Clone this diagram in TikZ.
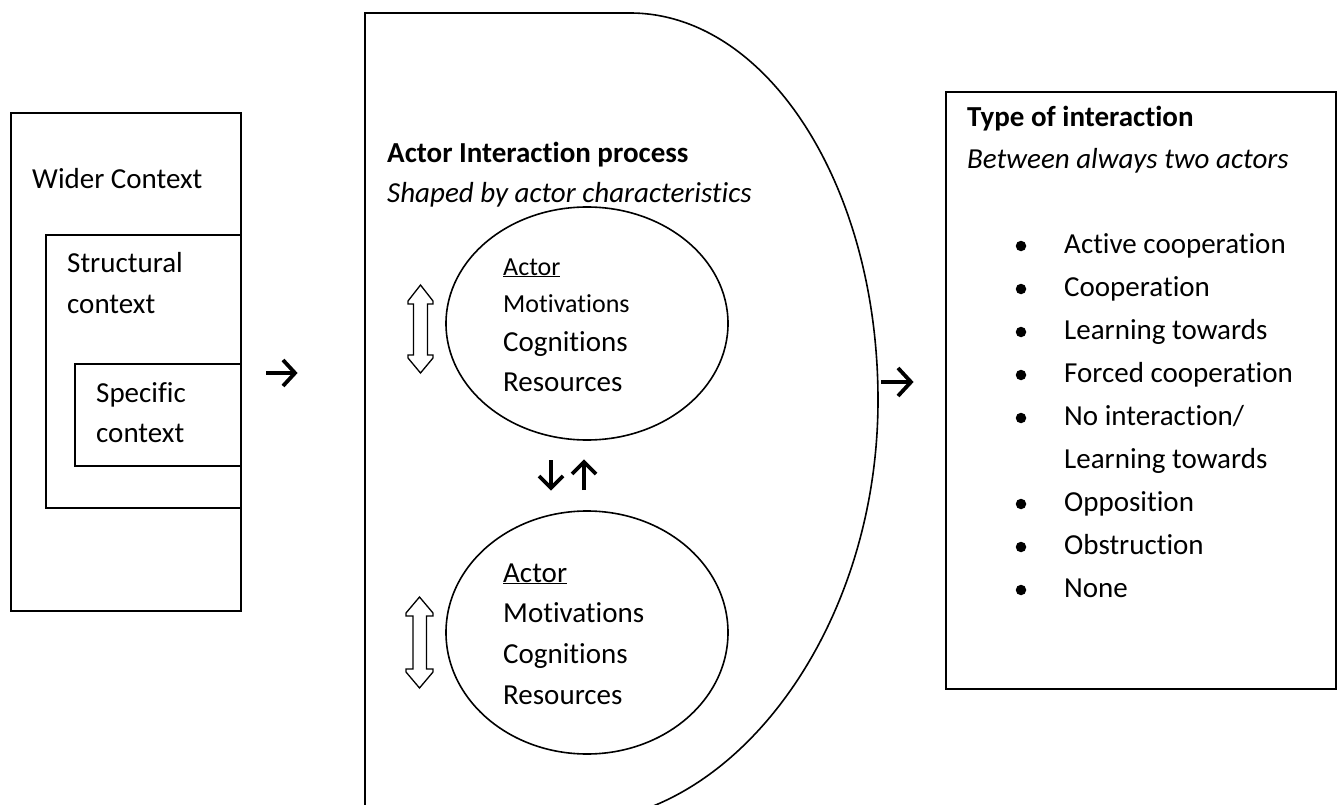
\documentclass[tikz,border=0pt]{standalone}
\usepackage{fontspec}
\setmainfont{Carlito}[Ligatures=NoCommon]
\usetikzlibrary{shapes.geometric}
\begin{document}
\begin{tikzpicture}[x=1pt,y=-1pt,
  txt/.style={anchor=base west, inner sep=0pt, font=\fontsize{29}{35}\selectfont},
  smalltxt/.style={anchor=base west, inner sep=0pt, font=\fontsize{26}{31}\selectfont},
  boldtxt/.style={txt, font=\fontsize{29}{35}\selectfont\bfseries},
  ittxt/.style={txt, font=\fontsize{29}{35}\selectfont\itshape},
  boxline/.style={draw, line width=2pt, inner sep=0pt, anchor=north west},
  arrowglyph/.style={line width=3.8pt, line cap=butt, line join=miter},
  hollow/.style={draw, line width=1.3pt, fill=white, line join=miter},
  oval/.style={ellipse, draw, line width=1.6pt, inner sep=0pt},
  curve/.style={line width=1.6pt},
  bullet/.style={circle, fill=black, inner sep=0pt, minimum size=10.5pt},
]
\useasboundingbox (0,0) rectangle (1341,805);
\clip (0,0) rectangle (1341,805);
\fill[white] (0,0) rectangle (1341,805);

% ---- left nested context boxes
\node[boxline, minimum width=230pt, minimum height=498pt] (widerbox) at (10,112) {};
\draw[line width=2pt] (240,235) -- (46,235) -- (46,508) -- (240,508);
\draw[line width=2pt] (240,364) -- (75,364) -- (75,466) -- (240,466);
\node[txt] (wider) at (32,189) {Wider Context};
\node[txt] (struct1) at (67,272) {Structural};
\node[txt] (struct2) at (67,313) {context};
\node[txt] (spec1) at (96,402) {Specific};
\node[txt] (spec2) at (96,442) {context};

% arrow glyph 1
\draw[arrowglyph] (266,373) -- (294,373);
\draw[arrowglyph] (283,360) -- (295,373) -- (283,386);

% ---- middle process shape
\draw[curve] (365,830) -- (365,13) -- (630,13)
  .. controls (767,13) and (878,186) .. (878,400)
  .. controls (878,625) and (740,812) .. (585,822);
\node[boldtxt] (proc) at (387,163) {Actor Interaction process};
\node[ittxt] (shaped) at (387,203) {Shaped by actor characteristics};

\node[oval, minimum width=282pt, minimum height=233pt] (actor1) at (587,323.5) {};
\node[oval, minimum width=282pt, minimum height=243pt] (actor2) at (587,632.5) {};

\node[smalltxt] (a1t1) at (503,275) {\underline{Actor}};
\node[smalltxt] (a1t2) at (503,312) {Motivations};
\node[txt] (a1t3) at (503,351) {Cognitions};
\node[txt] (a1t4) at (503,391) {Resources};

\node[txt] (a2t1) at (503,582) {\underline{Actor}};
\node[txt] (a2t2) at (503,622) {Motivations};
\node[txt] (a2t3) at (503,663) {Cognitions};
\node[txt] (a2t4) at (503,704) {Resources};

% hollow double arrows
\draw[hollow] (420.5,285) -- (408,301) -- (408,304) -- (413.5,304) -- (413.5,355)
  -- (408,355) -- (408,358) -- (420.5,373) -- (433,358) -- (433,355) -- (427.5,355)
  -- (427.5,304) -- (433,304) -- (433,301) -- cycle;
\draw[hollow] (419.5,597) -- (406,613) -- (406,616) -- (413,616) -- (413,669)
  -- (406,669) -- (406,672) -- (419.5,688) -- (433,672) -- (433,669) -- (426.5,669)
  -- (426.5,616) -- (433,616) -- (433,613) -- cycle;

% down / up arrow glyphs
\draw[arrowglyph] (551,460) -- (551,487);
\draw[arrowglyph] (539,476) -- (551,488) -- (563,476);
\draw[arrowglyph] (584,490) -- (584,463);
\draw[arrowglyph] (572,474) -- (584,462) -- (596,474);

% arrow glyph 2
\draw[arrowglyph] (881,382) -- (910,382);
\draw[arrowglyph] (898,368) -- (911,382) -- (898,396);

% ---- right box
\node[boxline, minimum width=390pt, minimum height=597pt] (typebox) at (945,91) {};
\node[boldtxt] (typetitle) at (967,127) {Type of interaction};
\node[ittxt] (typesub) at (967,169) {Between always two actors};

\foreach \i/\y in {1/246,2/289,3/332,4/375,5/418,7/504,8/547,9/590}
  \node[bullet] (b\i) at (1021,\y) {};
\node[txt] (it1) at (1064,253) {Active cooperation};
\node[txt] (it2) at (1064,296) {Cooperation};
\node[txt] (it3) at (1064,339) {Learning towards};
\node[txt] (it4) at (1064,382) {Forced cooperation};
\node[txt] (it5) at (1064,425) {No interaction/};
\node[txt] (it6) at (1064,468) {Learning towards};
\node[txt] (it7) at (1064,511) {Opposition};
\node[txt] (it8) at (1064,554) {Obstruction};
\node[txt] (it9) at (1064,597) {None};
\end{tikzpicture}
\end{document}
